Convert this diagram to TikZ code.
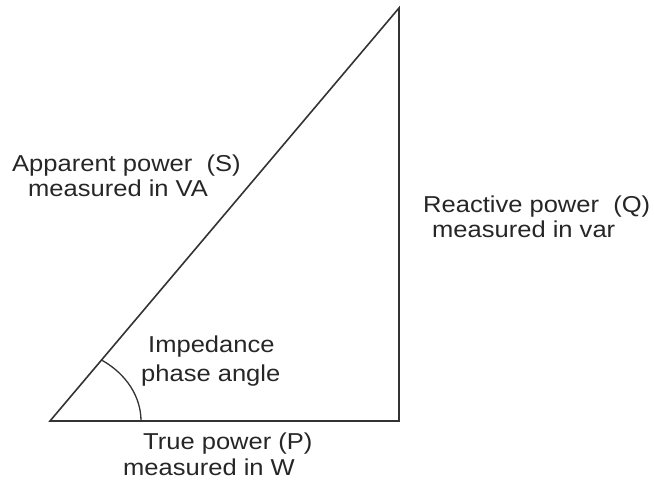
\documentclass[tikz,border=0pt]{standalone}
\usepackage{fontspec}
\setmainfont[FakeStretch=1.11]{Liberation Sans}
\begin{document}
\begin{tikzpicture}[x=1pt,y=1pt,
  edge/.style={draw=black!80,line width=1.6pt,line join=miter},
  lbl/.style={text=black!85,font=\fontsize{23}{25}\selectfont,inner sep=0pt,align=center}]
\useasboundingbox (0,0) rectangle (654,482);
\coordinate (A) at (50,61);
\coordinate (B) at (399,61);
\coordinate (C) at (399,474);
\draw[edge] (A) -- (B) -- (C) -- cycle;
\draw[edge,line width=1.3pt] (141,61) arc[start angle=0,end angle=55.2,x radius=91,y radius=74];
\node[lbl,anchor=base west] (s1) at (12,310) {Apparent power\ \ (S)};
\node[lbl,anchor=base west] (s2) at (28,285) {measured in VA};
\node[lbl,anchor=base west] (q1) at (423,269) {Reactive power\ \ (Q)};
\node[lbl,anchor=base west] (q2) at (432,244) {measured in var};
\node[lbl,anchor=base west] (i1) at (148,129) {Impedance};
\node[lbl,anchor=base west] (i2) at (141,100) {phase angle};
\node[lbl,anchor=base west] (p1) at (143,32) {True power (P)};
\node[lbl,anchor=base west] (p2) at (123,6) {measured in W};
\end{tikzpicture}
\end{document}
